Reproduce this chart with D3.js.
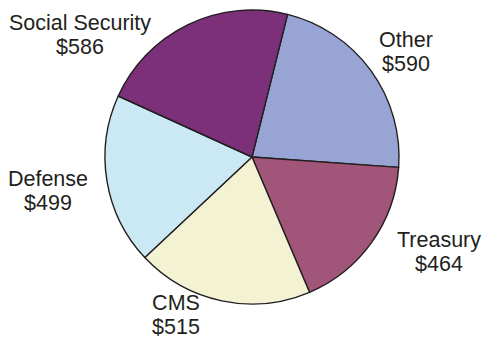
<!DOCTYPE html>
<html>
<head>
<meta charset="utf-8">
<script src="https://cdn.jsdelivr.net/npm/d3@7"></script>
<style>
  html, body { margin: 0; padding: 0; background: #fff; }
  svg { display: block; }
  text { font-family: "Liberation Sans", Arial, Helvetica, sans-serif; fill: #231f20; }
</style>
</head>
<body>
<svg id="chart" width="484" height="341"></svg>
<script>
// Spending by category (billions of dollars), clockwise from the top
const categories = ["Other", "Treasury", "CMS", "Defense", "Social Security"];
const values = [590, 464, 515, 499, 586];
const colors = ["#98a4d3", "#a05579", "#f3f2d3", "#cbe9f4", "#7c307a"];
// Label anchor points (center x, first baseline y)
const labelX = [406, 439, 176, 48, 80];
const labelY = [47, 247, 310, 186, 30];

const width = 484, height = 341;
const cx = 252, cy = 157, radius = 147;
const startDeg = 14;

const svg = d3.select("#chart");

const pie = d3.pie()
  .sort(null)
  .value(d => d.value)
  .startAngle(startDeg * Math.PI / 180)
  .endAngle((360 + startDeg) * Math.PI / 180);

const arc = d3.arc().innerRadius(0).outerRadius(radius);

const data = categories.map((c, i) => ({ name: c, value: values[i], color: colors[i] }));

const g = svg.append("g").attr("transform", `translate(${cx},${cy})`);

g.selectAll("path")
  .data(pie(data))
  .join("path")
  .attr("d", arc)
  .attr("fill", d => d.data.color)
  .attr("stroke", "#231f20")
  .attr("stroke-width", 1.4)
  .attr("stroke-linejoin", "round");

const labels = svg.selectAll("text.label")
  .data(data)
  .join("text")
  .attr("class", "label")
  .attr("text-anchor", "middle")
  .attr("font-size", "21.5px");

labels.append("tspan")
  .attr("x", (d, i) => labelX[i])
  .attr("y", (d, i) => labelY[i])
  .text(d => d.name);

labels.append("tspan")
  .attr("x", (d, i) => labelX[i])
  .attr("y", (d, i) => labelY[i] + 24)
  .text(d => "$" + d.value);
</script>
</body>
</html>
